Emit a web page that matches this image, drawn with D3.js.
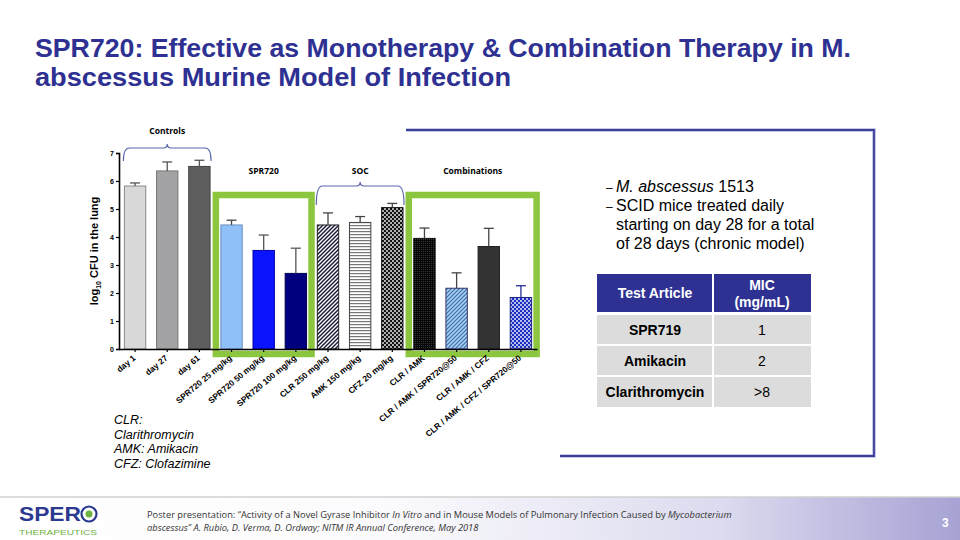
<!DOCTYPE html>
<html><head><meta charset="utf-8">
<script src="https://cdn.jsdelivr.net/npm/d3@7"></script>
<style>body{margin:0;background:#fff}svg{display:block}</style>
</head><body>
<svg id="c" width="960" height="540"></svg>
<script>
// ---- data ----
const categories = ["day 1","day 27","day 61","SPR720 25 mg/kg","SPR720 50 mg/kg","SPR720 100 mg/kg","CLR 250 mg/kg","AMK 150 mg/kg","CFZ 20 mg/kg","CLR / AMK","CLR / AMK / SPR720@50","CLR / AMK / CFZ","CLR / AMK / CFZ / SPR720@50"];
const means  = [5.82,6.36,6.52,4.43,3.52,2.70,4.43,4.52,5.05,3.95,2.17,3.66,1.84];
const errors = [0.11,0.32,0.22,0.17,0.55,0.90,0.43,0.21,0.15,0.37,0.55,0.65,0.42];
const yTicks = [0,1,2,3,4,5,6,7];
const groupLabels = ["Controls","SPR720","SOC","Combinations"];
const bullets = [["M. abscessus"," 1513"],["","SCID mice treated daily"],["","starting on day 28 for a total"],["","of 28 days (chronic model)"]];
const tableHead = ["Test Article","MIC\n(mg/mL)"];
const tableArticles = ["SPR719","Amikacin","Clarithromycin"];
const tableMIC = ["1","2",">8"];
const abbreviations = ["CLR:","Clarithromycin","AMK:  Amikacin","CFZ: Clofazimine"];

const svg = d3.select("#c");
const defs = svg.append("defs");

// patterns
function pat(id, w, h, bg, draw){
  const p = defs.append("pattern").attr("id",id).attr("patternUnits","userSpaceOnUse").attr("width",w).attr("height",h);
  p.append("rect").attr("width",w).attr("height",h).attr("fill",bg);
  draw(p);
}
pat("diagBW",4,4,"#fff",p=>{p.append("path").attr("d","M-1,1 l2,-2 M0,4 l4,-4 M3,5 l2,-2").attr("stroke","#1a1a3a").attr("stroke-width",1.5);});
pat("horizBW",3,3,"#fff",p=>{p.append("rect").attr("y",0).attr("width",3).attr("height",1.2).attr("fill","#777");});
pat("dotBW",4,4,"#111",p=>{p.append("circle").attr("cx",1).attr("cy",1).attr("r",0.9).attr("fill","#fff");p.append("circle").attr("cx",3).attr("cy",3).attr("r",0.9).attr("fill","#fff");});
pat("dotDark",2,2,"#050505",p=>{p.append("rect").attr("x",1).attr("y",1).attr("width",1).attr("height",1).attr("fill","#3a3a3a");});
pat("diagBlue",4,4,"#a8d0f5",p=>{p.append("path").attr("d","M-1,1 l2,-2 M0,4 l4,-4 M3,5 l2,-2").attr("stroke","#3c6ea8").attr("stroke-width",1.2);});
pat("dotBlue",4,4,"#1c2fc0",p=>{p.append("circle").attr("cx",1).attr("cy",1).attr("r",0.9).attr("fill","#fff");p.append("circle").attr("cx",3).attr("cy",3).attr("r",0.9).attr("fill","#fff");});

const fills = ["#d8d8d8","#a3a3a6","#5e5e5e","#8fc0f7","#0a14ff","#00007f","url(#diagBW)","url(#horizBW)","url(#dotBW)","url(#dotDark)","url(#diagBlue)","#333333","url(#dotBlue)"];
const strokes = ["#888","#777","#444","#6a8fc0","#0000aa","#000050","#222","#444","#111","#111","#336","#222","#1a237e"];
const errColors = ["#555","#555","#555","#444","#555","#555","#444","#444","#444","#444","#444","#444","#2a2f9a"];

// footer background
const fg = defs.append("linearGradient").attr("id","foot").attr("x1",0).attr("x2",1);
fg.append("stop").attr("offset","0").attr("stop-color","#ffffff");
fg.append("stop").attr("offset","0.4").attr("stop-color","#fbfbfd");
fg.append("stop").attr("offset","0.75").attr("stop-color","#dcdbef");
fg.append("stop").attr("offset","1").attr("stop-color","#a6a2d4");
svg.append("rect").attr("x",0).attr("y",497).attr("width",960).attr("height",43).attr("fill","url(#foot)");
svg.append("line").attr("x1",0).attr("x2",960).attr("y1",497).attr("y2",497).attr("stroke","#d0d0d0").attr("stroke-width",1.5);

// title
svg.append("text").attr("x",35).attr("y",57).attr("font-family","Liberation Sans, Arial, sans-serif").attr("font-weight","bold").attr("font-size",26.5).attr("fill","#2e3192")
  .attr("textLength",816).attr("lengthAdjust","spacingAndGlyphs").text("SPR720: Effective as Monotherapy & Combination Therapy in M.");
svg.append("text").attr("x",35).attr("y",86).attr("font-family","Liberation Sans, Arial, sans-serif").attr("font-weight","bold").attr("font-size",26.5).attr("fill","#2e3192")
  .attr("textLength",476).attr("lengthAdjust","spacingAndGlyphs").text("abscessus Murine Model of Infection");

// scales
const x = d3.scaleBand().domain(categories).range([119,537]).paddingInner(0.335).paddingOuter(0.1675);
const y = d3.scaleLinear().domain([0,7]).range([349,153]);

// green boxes (behind bars)
const boxes = [[categories[3],categories[5]],[categories[9],categories[12]]];
boxes.forEach(b=>{
  const x0 = x(b[0]) - 5, x1 = x(b[1]) + x.bandwidth() + 5;
  svg.append("rect").attr("x",x0).attr("y",195).attr("width",x1-x0).attr("height",159)
    .attr("fill","none").attr("stroke","#8cc63f").attr("stroke-width",6.5);
});

// bars
const g = svg.append("g");
g.selectAll("rect.bar").data(categories).join("rect").attr("class","bar")
  .attr("x",d=>x(d)).attr("width",x.bandwidth())
  .attr("y",(d,i)=>y(means[i])).attr("height",(d,i)=>y(0)-y(means[i]))
  .attr("fill",(d,i)=>fills[i]).attr("stroke",(d,i)=>strokes[i]).attr("stroke-width",1);
// error bars
categories.forEach((d,i)=>{
  const cx = x(d)+x.bandwidth()/2;
  g.append("line").attr("x1",cx).attr("x2",cx).attr("y1",y(means[i])).attr("y2",y(means[i]+errors[i])).attr("stroke",errColors[i]).attr("stroke-width",1.3);
  g.append("line").attr("x1",cx-5).attr("x2",cx+5).attr("y1",y(means[i]+errors[i])).attr("y2",y(means[i]+errors[i])).attr("stroke",errColors[i]).attr("stroke-width",1.3);
});

// axes
const yAxis = svg.append("g").attr("transform","translate(119,0)").call(d3.axisLeft(y).tickValues(yTicks).tickSize(3).tickFormat(d3.format("d")));
yAxis.select(".domain").attr("stroke","#000").attr("stroke-width",1.6);
yAxis.selectAll(".tick line").attr("stroke-width",1.2);
yAxis.selectAll("text").attr("font-family","Liberation Sans, Arial").attr("font-weight","bold").attr("font-size",7).attr("x",-5);

const xAxis = svg.append("g").attr("transform","translate(0,349)").call(d3.axisBottom(x).tickSize(3).tickSizeOuter(0));
xAxis.select(".domain").attr("stroke","#000").attr("stroke-width",1.6);
xAxis.selectAll(".tick line").attr("stroke-width",1.2);
xAxis.selectAll("text").attr("font-family","Liberation Sans, Arial").attr("font-weight","bold").attr("font-size",8.4)
  .attr("text-anchor","end").attr("dy",0).attr("y",0).attr("transform","translate(1,10) rotate(-40)");

// y label
const yl = svg.append("text").attr("transform","translate(98,251) rotate(-90)").attr("text-anchor","middle")
  .attr("font-family","Liberation Sans, Arial").attr("font-weight","bold").attr("font-size",11).attr("fill","#000");
yl.append("tspan").text("log");
yl.append("tspan").attr("font-size",7).attr("dy",2.5).text("10");
yl.append("tspan").attr("dy",-2.5).text(" CFU in the lung");

// braces
function brace(x0,x1,yTop,yTip){
  const m=(x0+x1)/2, yl=yTop+4;
  return `M${x0},${yTip} Q${x0},${yl} ${x0+6},${yl} L${m-4},${yl} Q${m},${yl} ${m},${yTop} Q${m},${yl} ${m+4},${yl} L${x1-6},${yl} Q${x1},${yl} ${x1},${yTip}`;
}
svg.append("path").attr("d",brace(x(categories[0])-1,x(categories[2])+x.bandwidth()+1,144,161)).attr("fill","none").attr("stroke","#5a67ad").attr("stroke-width",1.2);
svg.append("path").attr("d",brace(x(categories[6])-1,x(categories[8])+x.bandwidth()+1,182,205)).attr("fill","none").attr("stroke","#5a67ad").attr("stroke-width",1.2);

const glPos = [[(x(categories[0])+x(categories[2])+x.bandwidth())/2,134],[(x(categories[3])+x(categories[5])+x.bandwidth())/2,174],[(x(categories[6])+x(categories[8])+x.bandwidth())/2,174],[(x(categories[9])+x(categories[12])+x.bandwidth())/2,174]];
svg.selectAll("text.gl").data(groupLabels).join("text").attr("class","gl")
  .attr("x",(d,i)=>glPos[i][0]).attr("y",(d,i)=>glPos[i][1]).attr("text-anchor","middle")
  .attr("font-family","Open Sans, sans-serif").attr("font-weight","bold").attr("font-size",8.5).text(d=>d);

// right frame
svg.append("path").attr("d","M406,130 L874,130 L874,456 L560,456").attr("fill","none").attr("stroke","#b5b8dd").attr("stroke-width",3.5);
svg.append("path").attr("d","M406,130 L874,130 L874,456 L560,456").attr("fill","none").attr("stroke","#3a3f99").attr("stroke-width",1.8);

// bullets
bullets.forEach((b,i)=>{
  const t = svg.append("text").attr("x",616).attr("y",192+i*19).attr("font-family","Liberation Sans, Arial").attr("font-size",16).attr("fill","#000");
  if(i<2) svg.append("text").attr("x",606).attr("y",192+i*19).attr("font-family","Liberation Sans, Arial").attr("font-size",12).text("–");
  if(b[0]) t.append("tspan").attr("font-style","italic").text(b[0]);
  t.append("tspan").text(b[1]);
});

// table
const tx0=597, tx1=713, tx2=811;
const rowsY=[[274,312],[315,344],[346,375],[377,407]];
svg.append("rect").attr("x",tx0).attr("y",rowsY[0][0]).attr("width",tx1-tx0-1).attr("height",rowsY[0][1]-rowsY[0][0]).attr("fill","#2e3192");
svg.append("rect").attr("x",tx1+1).attr("y",rowsY[0][0]).attr("width",tx2-tx1-1).attr("height",rowsY[0][1]-rowsY[0][0]).attr("fill","#2e3192");
svg.append("text").attr("x",(tx0+tx1)/2).attr("y",298).attr("text-anchor","middle").attr("font-family","Liberation Sans, Arial").attr("font-weight","bold").attr("font-size",14).attr("fill","#fff").text(tableHead[0]);
const mh = tableHead[1].split("\n");
mh.forEach((s,i)=>svg.append("text").attr("x",(tx1+tx2)/2).attr("y",290+i*17).attr("text-anchor","middle").attr("font-family","Liberation Sans, Arial").attr("font-weight","bold").attr("font-size",14).attr("fill","#fff").text(s));
tableArticles.forEach((a,i)=>{
  const r=rowsY[i+1];
  svg.append("rect").attr("x",tx0).attr("y",r[0]).attr("width",tx1-tx0-1).attr("height",r[1]-r[0]).attr("fill","#dcdcdc");
  svg.append("rect").attr("x",tx1+1).attr("y",r[0]).attr("width",tx2-tx1-1).attr("height",r[1]-r[0]).attr("fill","#dcdcdc");
  svg.append("text").attr("x",(tx0+tx1)/2).attr("y",(r[0]+r[1])/2+5).attr("text-anchor","middle").attr("font-family","Liberation Sans, Arial").attr("font-weight","bold").attr("font-size",14).text(a);
  svg.append("text").attr("x",(tx1+tx2)/2).attr("y",(r[0]+r[1])/2+5).attr("text-anchor","middle").attr("font-family","Liberation Sans, Arial").attr("font-size",14).text(tableMIC[i]);
});

// abbreviations
abbreviations.forEach((s,i)=>svg.append("text").attr("x",114).attr("y",424+i*14.5).attr("font-family","Liberation Sans, Arial").attr("font-style","italic").attr("font-size",12.5).text(s));

// footer logo
svg.append("text").attr("x",19).attr("y",521).attr("font-family","Liberation Sans, Arial").attr("font-weight","bold").attr("font-size",20).attr("fill","#2b3990").attr("textLength",62).attr("lengthAdjust","spacingAndGlyphs").text("SPER");
svg.append("circle").attr("cx",89).attr("cy",514).attr("r",7.5).attr("fill","none").attr("stroke","#2b3990").attr("stroke-width",2.2);
svg.append("circle").attr("cx",89).attr("cy",514).attr("r",3.5).attr("fill","#6cb33f");
svg.append("text").attr("x",19).attr("y",535).attr("font-family","Liberation Sans Narrow, Liberation Sans, Arial").attr("font-size",8).attr("fill","#6cb33f").attr("textLength",78).attr("lengthAdjust","spacingAndGlyphs").text("THERAPEUTICS");

// footer text
const f1 = svg.append("text").attr("x",147).attr("y",518).attr("font-family","Open Sans, sans-serif").attr("font-size",9.3).attr("fill","#333");
f1.append("tspan").text("Poster presentation: “Activity of a Novel Gyrase Inhibitor ");
f1.append("tspan").attr("font-style","italic").text("In Vitro");
f1.append("tspan").text("  and in Mouse Models of Pulmonary Infection Caused by ");
f1.append("tspan").attr("font-style","italic").text("Mycobacterium");
const f2 = svg.append("text").attr("x",147).attr("y",531).attr("font-family","Open Sans, sans-serif").attr("font-size",9.3).attr("font-style","italic").attr("fill","#333");
f2.text("abscessus”   A. Rubio, D. Verma, D. Ordway; NITM IR Annual Conference, May 2018");
svg.append("text").attr("x",942).attr("y",527).attr("font-family","Liberation Sans, Arial").attr("font-weight","bold").attr("font-size",12).attr("fill","#fff").text("3");
</script>
</body></html>
